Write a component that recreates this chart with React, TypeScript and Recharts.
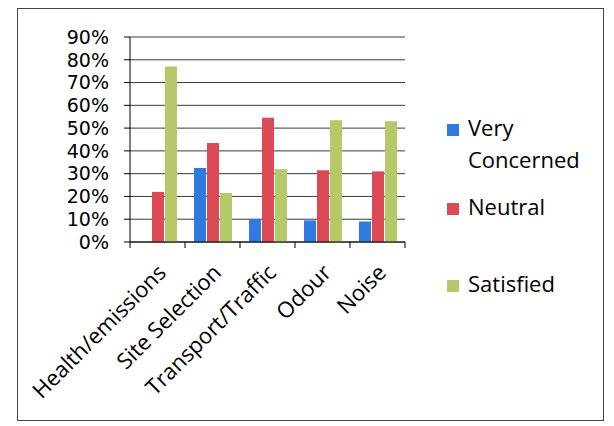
import React from 'react';
import { BarChart, Bar, XAxis, YAxis, CartesianGrid, Legend } from 'recharts';

const categories = ['Health/emissions', 'Site Selection', 'Transport/Traffic', 'Odour', 'Noise'];
const veryConcerned = [0, 32.5, 10, 9.5, 9];
const neutral = [22, 43.5, 54.5, 31.5, 31];
const satisfied = [77, 21.5, 32, 53.5, 53];
const yTicks = [0, 10, 20, 30, 40, 50, 60, 70, 80, 90];

const seriesNames = ['Very Concerned', 'Neutral', 'Satisfied'];
const seriesColors = ['#2f7be0', '#dc4a55', '#b5c86a'];

const data = categories.map((name, i) => ({
  name,
  vc: veryConcerned[i],
  ne: neutral[i],
  sa: satisfied[i],
}));

// Excel-style ticks: marks sit on the category boundaries, labels rotated 45deg
const CategoryTick = (props: any) => {
  const { x, y, payload, index } = props;
  const half = payload && payload.offset ? payload.offset : 27.5;
  const last = index === categories.length - 1;
  const tx = x + 10;
  const ty = y + 32;
  return (
    <g>
      <line x1={x - half} y1={y} x2={x - half} y2={y + 6} stroke="#000" />
      {last && <line x1={x + half} y1={y} x2={x + half} y2={y + 6} stroke="#000" />}
      <text
        x={tx}
        y={ty}
        textAnchor="end"
        fontSize={22}
        fill="#000"
        transform={`rotate(-45, ${tx}, ${ty})`}
      >
        {payload.value}
      </text>
    </g>
  );
};

const entryGaps = [0, 15, 45];

const renderLegend = (props: any) => {
  // keep series order, not alphabetical
  const items = [...(props.payload || [])].sort(
    (a: any, b: any) => seriesNames.indexOf(a.value) - seriesNames.indexOf(b.value)
  );
  return (
    <div style={{ fontSize: 22, lineHeight: '32px', color: '#000' }}>
      {items.map((entry: any, i: number) => (
        <div key={entry.value} style={{ display: 'flex', marginTop: entryGaps[i] }}>
          <div
            style={{
              width: 12,
              height: 12,
              marginTop: 13,
              marginRight: 9,
              background: entry.color,
              flex: 'none',
            }}
          />
          <div style={{ width: 122 }}>{entry.value}</div>
        </div>
      ))}
    </div>
  );
};

export default function App() {
  return (
    <div
      style={{
        marginLeft: 9,
        width: 585,
        height: 411,
        border: '1px solid #444',
        fontFamily: '"Open Sans", sans-serif',
        background: '#fff',
      }}
    >
      <BarChart
        width={585}
        height={411}
        data={data}
        margin={{ top: 28, right: 198, left: 0, bottom: 0 }}
        barCategoryGap={9}
        barGap={1}
      >
        <CartesianGrid horizontal vertical={false} stroke="#3a3a3a" />
        <XAxis
          dataKey="name"
          interval={0}
          height={178}
          axisLine={{ stroke: '#000' }}
          tickLine={false}
          tickSize={0}
          tickMargin={0}
          tick={<CategoryTick />}
        />
        <YAxis
          width={112}
          domain={[0, 90]}
          ticks={yTicks}
          interval={0}
          axisLine={{ stroke: '#000' }}
          tickLine={{ stroke: '#000' }}
          tickSize={6}
          tickMargin={15}
          tick={{ fontSize: 19, fill: '#000', fontFamily: '"DejaVu Sans", sans-serif' }}
          tickFormatter={(v) => `${v}%`}
        />
        <Legend
          layout="horizontal"
          verticalAlign="middle"
          align="center"
          content={renderLegend}
          wrapperStyle={{ position: 'absolute', left: 429, top: 102, width: 160 }}
        />
        <Bar dataKey="vc" name={seriesNames[0]} fill={seriesColors[0]} isAnimationActive={false} />
        <Bar dataKey="ne" name={seriesNames[1]} fill={seriesColors[1]} isAnimationActive={false} />
        <Bar dataKey="sa" name={seriesNames[2]} fill={seriesColors[2]} isAnimationActive={false} />
      </BarChart>
    </div>
  );
}
